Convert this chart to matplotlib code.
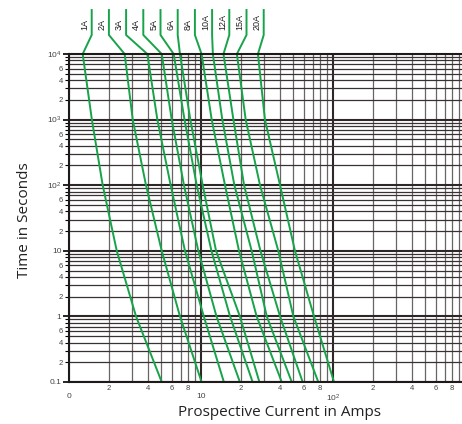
import numpy as np
import matplotlib
matplotlib.use("Agg")
import matplotlib.pyplot as plt

plt.rcParams['font.family'] = ['Liberation Sans', 'DejaVu Sans']
plt.rcParams['mathtext.fontset'] = 'custom'
plt.rcParams['mathtext.rm'] = 'Liberation Sans'
plt.rcParams['mathtext.default'] = 'regular'

# ---- data (fuse time-current curves) ----
ratings = ['1A', '2A', '3A', '4A', '5A', '6A', '8A', '10A', '12A', '15A', '20A']
times = [1e4, 1e3, 1e2, 10, 1, 0.1]  # seconds
# prospective current (A) for each fuse at the times above
cur_1A = [1.27, 1.49, 1.80, 2.30, 3.22, 5.04]
cur_2A = [2.64, 3.04, 3.83, 5.04, 6.93, 10.1]
cur_3A = [3.92, 4.67, 5.89, 7.56, 10.5, 14.9]
cur_4A = [5.04, 6.0, 7.43, 9.54, 13.1, 19.7]
cur_5A = [6.21, 7.5, 9.28, 12.0, 16.6, 24.6]
cur_6A = [6.93, 8.3, 10.3, 13.0, 19.7, 27.7]
cur_8A = [10.1, 12.05, 15.2, 19.4, 26.4, 40.9]
cur_10A = [12.3, 14.5, 17.9, 24.2, 31.5, 48.7]
cur_12A = [14.8, 17.6, 21.2, 28.2, 39.7, 58.9]
cur_15A = [18.7, 21.8, 28.0, 38.5, 50.1, 77.4]
cur_20A = [27.0, 30.5, 39.7, 51.5, 71.8, 101.8]
currents = [cur_1A, cur_2A, cur_3A, cur_4A, cur_5A, cur_6A,
            cur_8A, cur_10A, cur_12A, cur_15A, cur_20A]

x_major = [1, 10, 100, 1000]
x_major_labels = ['0', '10', '$10^2$', '1']
y_major = [0.1, 1, 10, 100, 1000, 10000]
y_major_labels = ['0.1', '1', '10', '$10^2$', '$10^3$', '$10^4$']

green = '#17a34a'

fig = plt.figure(figsize=(4.62, 4.24), dpi=100)
# axes runs a bit past the right edge, like the cropped original
ax = fig.add_axes([69/462, 42/424, 396/462, 328/424])
ax.set_xscale('log')
ax.set_yscale('log')
ax.set_xlim(1, 1000)
ax.set_ylim(0.1, 1e4)

# ticks
x_minor = [m * 10**k for k in range(3) for m in range(2, 10)]
x_minor_labels = [str(m) if m % 2 == 0 else '' for k in range(3) for m in range(2, 10)]
y_minor = [m * 10.0**k for k in range(-1, 4) for m in range(2, 10)]
y_minor_labels = [str(m) if m in (2, 4, 6) else '' for k in range(-1, 4) for m in range(2, 10)]
ax.set_xticks(x_major, x_major_labels)
ax.set_xticks(x_minor, x_minor_labels, minor=True)
ax.set_yticks(y_major, y_major_labels)
ax.set_yticks(y_minor, y_minor_labels, minor=True)
ax.tick_params(axis='x', which='major', length=0, pad=8, labelsize=6, labelcolor='#444444')
ax.tick_params(axis='x', which='minor', length=0, pad=2, labelsize=5.5, labelcolor='#444444')
ax.tick_params(axis='y', which='major', length=4, width=1.2, pad=1.5, labelsize=6, labelcolor='#444444')
ax.tick_params(axis='y', which='minor', length=3, width=0.8, pad=1.5, labelsize=5.5, labelcolor='#444444')

# grid
ax.set_axisbelow(True)
ax.grid(which='major', color='#2f2727', lw=1.5)
ax.xaxis.grid(which='minor', color='#6a6464', lw=0.9)
ax.yaxis.grid(which='minor', color='#3a3232', lw=0.9)
for s in ax.spines.values():
    s.set_color('#1e1a1a')
    s.set_linewidth(1.5)

# curves
for cur in currents:
    ax.plot(cur, times, color=green, lw=1.4)

# labels on top with leader lines
label_x0 = 1.486
label_step = 10**(17.2/132)
y_kink = 10**4.29
y_top = 10**4.67
y_text = 10**4.366
for i, (name, cur) in enumerate(zip(ratings, currents)):
    lx = label_x0 * label_step**i
    ax.plot([lx, lx, cur[0]], [y_top, y_kink, times[0]], color=green, lw=1.4, clip_on=False)
    ax.text(lx / 10**(6.5/132), y_text, name, rotation=90, ha='center', va='bottom',
            fontsize=6.5, color='#222222', clip_on=False)

fig.text(280/462, 1 - 412/424, 'Prospective Current in Amps', ha='center', va='center',
         fontsize=11, family='Open Sans', color='#222222')
fig.text(25/462, 1 - 220/424, 'Time in Seconds', ha='center', va='center', rotation=90,
         fontsize=11, family='Open Sans', color='#222222')

fig.savefig('out.png', dpi=100)
